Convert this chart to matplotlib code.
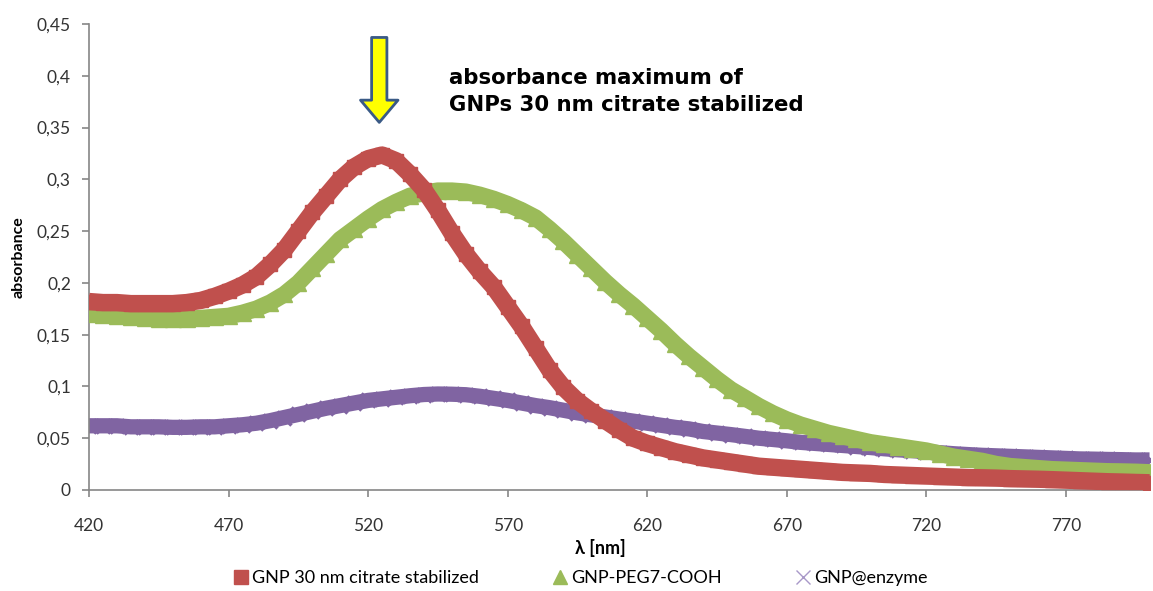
import matplotlib
matplotlib.use("Agg")
import matplotlib.pyplot as plt
from matplotlib.lines import Line2D
from matplotlib.ticker import FuncFormatter

plt.rcParams["font.family"] = ["Lato", "DejaVu Sans"]

# =========================
# Data (every 5 nm)
# =========================
wavelength = list(range(420, 801, 5))

citrate = [
    0.182, 0.181, 0.181, 0.180, 0.180, 0.180, 0.180, 0.181, 0.183, 0.187,
    0.192, 0.198, 0.206, 0.218, 0.232, 0.250, 0.268, 0.284, 0.300, 0.312,
    0.320, 0.3235, 0.318, 0.305, 0.290, 0.270, 0.248, 0.228, 0.211, 0.196,
    0.177, 0.158, 0.137, 0.116, 0.099, 0.086, 0.076, 0.067, 0.058, 0.050,
    0.045, 0.041, 0.037, 0.034, 0.031, 0.029, 0.027, 0.025, 0.023, 0.022,
    0.021, 0.020, 0.019, 0.018, 0.017, 0.0165, 0.016, 0.015, 0.0145, 0.014,
    0.0135, 0.013, 0.0125, 0.012, 0.0118, 0.0115, 0.011, 0.0107, 0.0104, 0.010,
    0.0095, 0.009, 0.0085, 0.008, 0.0077, 0.0073, 0.007,
]

peg_cooh = [
    0.170, 0.169, 0.168, 0.167, 0.166, 0.165, 0.165, 0.165, 0.166, 0.167,
    0.168, 0.171, 0.175, 0.181, 0.189, 0.200, 0.214, 0.228, 0.242, 0.252,
    0.262, 0.271, 0.278, 0.284, 0.287, 0.289, 0.289, 0.288, 0.285, 0.281,
    0.276, 0.270, 0.263, 0.252, 0.240, 0.227, 0.214, 0.201, 0.189, 0.178,
    0.166, 0.154, 0.141, 0.129, 0.118, 0.107, 0.097, 0.089, 0.081, 0.074,
    0.068, 0.063, 0.059, 0.055, 0.052, 0.049, 0.046, 0.044, 0.042, 0.040,
    0.038, 0.035, 0.032, 0.030, 0.028, 0.025, 0.023, 0.022, 0.021, 0.020,
    0.0195, 0.019, 0.0185, 0.018, 0.0178, 0.0175, 0.017,
]

enzyme = [
    0.062, 0.062, 0.062, 0.061, 0.061, 0.061, 0.0605, 0.0605, 0.061, 0.061,
    0.062, 0.063, 0.0645, 0.067, 0.070, 0.073, 0.076, 0.079, 0.0815, 0.084,
    0.0865, 0.088, 0.0895, 0.091, 0.0922, 0.0927, 0.0925, 0.092, 0.0905, 0.0885,
    0.0865, 0.084, 0.0815, 0.0795, 0.077, 0.0745, 0.0725, 0.0705, 0.0685, 0.0665,
    0.0645, 0.0625, 0.0605, 0.059, 0.0565, 0.055, 0.0535, 0.0518, 0.050, 0.0488,
    0.0475, 0.046, 0.045, 0.044, 0.043, 0.042, 0.041, 0.0398, 0.0388, 0.038,
    0.037, 0.036, 0.035, 0.0342, 0.0335, 0.033, 0.0325, 0.032, 0.0315, 0.031,
    0.0305, 0.030, 0.0298, 0.0295, 0.0293, 0.029, 0.029,
]

series_names = ["GNP 30 nm citrate stabilized", "GNP-PEG7-COOH", "GNP@enzyme"]
x_ticks = list(range(420, 771, 50))
y_ticks = [0, 0.05, 0.1, 0.15, 0.2, 0.25, 0.3, 0.35, 0.4, 0.45]
peak_nm = 524
note = "absorbance maximum of\nGNPs 30 nm citrate stabilized"

# =========================
# Styles
# =========================
RED = "#C0504D"
GREEN = "#9BBB59"
PURPLE = "#8064A2"
AXIS = "#868686"

fig = plt.figure(figsize=(11.53, 5.91), dpi=100)
ax = fig.add_axes([0.0772, 0.1709, 0.9198, 0.7885])

# thick bands: a wide line underneath + dense markers on top
ax.plot(wavelength, enzyme, color=PURPLE, lw=11, solid_capstyle="butt", zorder=2)
ax.plot(wavelength, enzyme, ls="none", marker="x", ms=10, mew=2.5, color=PURPLE, zorder=2)
ax.plot(wavelength, peg_cooh, color=GREEN, lw=12, solid_capstyle="butt", zorder=3)
ax.plot(wavelength, peg_cooh, ls="none", marker="^", ms=11, color=GREEN, mec=GREEN, zorder=3)
ax.plot(wavelength, citrate, color=RED, lw=12.5, solid_capstyle="butt", zorder=4)
ax.plot(wavelength, citrate, ls="none", marker="s", ms=10, color=RED, mec=RED, zorder=4)

ax.set_xlim(420, 800)
ax.set_ylim(0, 0.45)
ax.set_xticks(x_ticks)
ax.set_yticks(y_ticks)
ax.yaxis.set_major_formatter(FuncFormatter(lambda v, p: ("%g" % v).replace(".", ",")))

for side in ["top", "right"]:
    ax.spines[side].set_visible(False)
for side in ["left", "bottom"]:
    ax.spines[side].set_color(AXIS)
    ax.spines[side].set_linewidth(1.2)
ax.tick_params(colors=AXIS, length=5, width=1.2, labelsize=12.5, labelcolor="#333333")
ax.tick_params(axis="x", pad=15)
ax.tick_params(axis="y", pad=8)

ax.set_xlabel("λ [nm]", fontsize=13, fontweight="bold", va="top")
ax.xaxis.set_label_coords(0.482, -0.105)
ax.set_ylabel("absorbance", fontsize=11.5, fontweight="bold", labelpad=8)

# arrow pointing to the citrate maximum
ax.annotate("", xy=(peak_nm, 0.355), xytext=(peak_nm, 0.437),
            arrowprops=dict(arrowstyle="simple,head_length=0.8,head_width=1.35,tail_width=0.55",
                            fc="#FFFF00", ec="#3A5A86", lw=2, mutation_scale=20,
                            shrinkA=0, shrinkB=0))
ax.text(549, 0.385, note, fontsize=15.3, fontweight="bold", ha="left", va="center",
        linespacing=1.4, family="DejaVu Sans")

# legend below the plot
handles = [
    Line2D([], [], ls="none", marker="s", ms=10, color=RED),
    Line2D([], [], ls="none", marker="^", ms=10, color=GREEN),
    Line2D([], [], ls="none", marker="x", ms=10, mew=1, color="#A898C8"),
]
fig.legend(handles, series_names, loc="center", bbox_to_anchor=(0.503, 0.022),
           ncol=3, frameon=False, fontsize=13, columnspacing=4.0,
           handletextpad=0.1, handlelength=1.0)

fig.savefig("out.png", dpi=100)
